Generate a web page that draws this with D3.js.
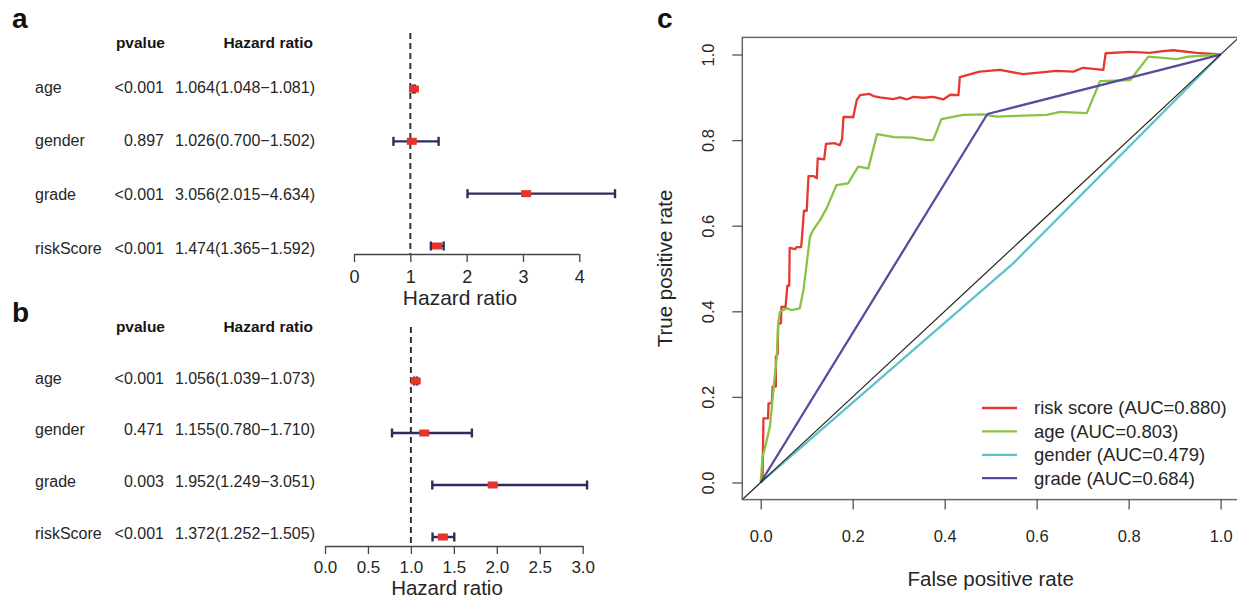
<!DOCTYPE html>
<html>
<head>
<meta charset="utf-8">
<script src="https://cdn.jsdelivr.net/npm/d3@7"></script>
<style>
  body { margin: 0; background: #fff; }
  svg { display: block; font-family: "Liberation Sans", Arial, sans-serif; }
</style>
</head>
<body>
<div id="chart"></div>
<script>
// forest plot data (shared row labels)
const variables = ['age', 'gender', 'grade', 'riskScore']

const pvalueA = ['<0.001', '0.897', '<0.001', '<0.001']
const hrA = [1.064, 1.026, 3.056, 1.474]
const lowA = [1.048, 0.7, 2.015, 1.365]
const highA = [1.081, 1.502, 4.634, 1.592]
const ticksA = [0, 1, 2, 3, 4]

const pvalueB = ['<0.001', '0.471', '0.003', '<0.001']
const hrB = [1.056, 1.155, 1.952, 1.372]
const lowB = [1.039, 0.78, 1.249, 1.252]
const highB = [1.073, 1.71, 3.051, 1.505]
const ticksB = [0, 0.5, 1, 1.5, 2, 2.5, 3]

// ROC curves
const rocNames = ['risk score', 'age', 'gender', 'grade']
const rocAuc = [0.88, 0.803, 0.479, 0.684]
const rocTicks = [0, 0.2, 0.4, 0.6, 0.8, 1]

const riskFpr = [0, 0.004, 0.006, 0.016, 0.017, 0.024, 0.026, 0.033, 0.033, 0.037, 0.038, 0.044,
  0.045, 0.054, 0.058, 0.062, 0.063, 0.075, 0.078, 0.088, 0.091, 0.094, 0.1, 0.104, 0.115,
  0.122, 0.124, 0.138, 0.142, 0.16, 0.172, 0.177, 0.18, 0.198, 0.201, 0.209, 0.216, 0.236,
  0.245, 0.259, 0.288, 0.303, 0.317, 0.332, 0.353, 0.375, 0.397, 0.412, 0.43, 0.433, 0.476,
  0.52, 0.571, 0.643, 0.68, 0.701, 0.745, 0.75, 0.803, 0.846, 0.875, 0.897, 0.948, 1]
const riskTpr = [0, 0.01, 0.15, 0.15, 0.185, 0.185, 0.224, 0.224, 0.294, 0.3, 0.372, 0.372,
  0.41, 0.41, 0.46, 0.46, 0.548, 0.545, 0.55, 0.55, 0.59, 0.635, 0.635, 0.716, 0.716,
  0.711, 0.757, 0.755, 0.791, 0.793, 0.788, 0.803, 0.854, 0.854, 0.853, 0.894, 0.905, 0.908,
  0.903, 0.9, 0.896, 0.9, 0.895, 0.901, 0.899, 0.901, 0.895, 0.906, 0.905, 0.947, 0.96,
  0.964, 0.954, 0.962, 0.96, 0.969, 0.964, 1.003, 1.006, 1.004, 1.008, 1.01, 1.004, 1]

const ageFpr = [0, 0.004, 0.009, 0.02, 0.027, 0.035, 0.038, 0.042, 0.057, 0.067, 0.085, 0.093,
  0.107, 0.114, 0.129, 0.143, 0.165, 0.19, 0.212, 0.234, 0.253, 0.29, 0.33, 0.36, 0.375,
  0.393, 0.44, 0.484, 0.513, 0.622, 0.651, 0.709, 0.738, 0.803, 0.843, 0.904, 0.93, 1]
const ageTpr = [0, 0.06, 0.08, 0.13, 0.208, 0.294, 0.372, 0.399, 0.407, 0.403, 0.407, 0.45,
  0.573, 0.59, 0.613, 0.64, 0.695, 0.699, 0.738, 0.734, 0.814, 0.807, 0.806, 0.8, 0.8,
  0.849, 0.859, 0.86, 0.855, 0.859, 0.866, 0.863, 0.938, 0.94, 0.995, 0.989, 0.995, 1]

const genderFpr = [0, 0.549, 1]
const genderTpr = [0, 0.512, 1]

const gradeFpr = [0, 0.493, 1]
const gradeTpr = [0, 0.861, 1]

const rocColors = ['#e5392f', '#87c443', '#5fc1c9', '#5a4b9d']
const rocSeries = [
  d3.zip(riskFpr, riskTpr),
  d3.zip(ageFpr, ageTpr),
  d3.zip(genderFpr, genderTpr),
  d3.zip(gradeFpr, gradeTpr)
]

const width = 1237
const height = 598
const textColor = '#262626'

const svg = d3
  .select('#chart')
  .append('svg')
  .attr('width', width)
  .attr('height', height)

svg.append('rect').attr('width', width).attr('height', height).attr('fill', '#fff')

const fmt3 = d3.format('.3f')

// one forest panel (table on the left, intervals on the right)
function forest(p) {
  const g = svg.append('g')
  const x = d3.scaleLinear().domain(p.domain).range(p.xRange)
  const y = d3.scaleLinear().domain([0, variables.length - 1]).range(p.rowRange)
  const yt = d3.scaleLinear().domain([0, variables.length - 1]).range(p.textRange)

  g.append('text')
    .attr('x', 12)
    .attr('y', p.letterY)
    .attr('font-family', '"Liberation Sans Narrow", "Liberation Sans", sans-serif')
    .attr('font-weight', 'bold')
    .attr('font-size', 28)
    .attr('fill', '#111')
    .text(p.letter)

  const header = g
    .append('g')
    .attr('font-weight', 'bold')
    .attr('font-size', 15.5)
    .attr('fill', '#151515')
    .attr('text-anchor', 'end')
  header.append('text').attr('x', 165).attr('y', p.headerY).attr('dy', '0.35em').text('pvalue')
  header.append('text').attr('x', 313).attr('y', p.headerY).attr('dy', '0.35em').text('Hazard ratio')

  const rows = g
    .append('g')
    .attr('font-size', 16)
    .attr('fill', textColor)
    .selectAll('g')
    .data(variables)
    .join('g')
    .attr('transform', (d, i) => 'translate(0,' + yt(i) + ')')

  rows.append('text').attr('x', 35).attr('dy', '0.35em').text(d => d)
  rows
    .append('text')
    .attr('x', 164)
    .attr('dy', '0.35em')
    .attr('text-anchor', 'end')
    .text((d, i) => p.pvalue[i])
  rows
    .append('text')
    .attr('x', 315)
    .attr('dy', '0.35em')
    .attr('text-anchor', 'end')
    .text((d, i) => fmt3(p.hr[i]) + '(' + fmt3(p.low[i]) + '\u2212' + fmt3(p.high[i]) + ')')

  // reference line at HR = 1
  g.append('line')
    .attr('x1', x(1))
    .attr('x2', x(1))
    .attr('y1', p.dashTop)
    .attr('y2', p.axisY)
    .attr('stroke', '#333')
    .attr('stroke-width', 2)
    .attr('stroke-dasharray', '6,4')

  const axis = g
    .append('g')
    .attr('transform', 'translate(0,' + p.axisY + ')')
    .call(
      d3
        .axisBottom(x)
        .tickValues(p.ticks)
        .tickSize(8)
        .tickSizeOuter(0)
        .tickPadding(p.tickPad)
        .tickFormat(p.tickFormat)
    )
  axis.selectAll('path,line').attr('stroke', '#444').attr('stroke-width', 1.3)
  axis
    .selectAll('text')
    .attr('font-size', p.tickFont)
    .attr('font-family', '"Liberation Sans", Arial, sans-serif')
    .attr('fill', textColor)

  g.append('text')
    .attr('x', p.titleX)
    .attr('y', p.titleY)
    .attr('dy', '0.35em')
    .attr('text-anchor', 'middle')
    .attr('font-size', p.titleFont)
    .attr('fill', textColor)
    .text('Hazard ratio')

  const ci = g
    .append('g')
    .attr('stroke', '#2c2d5b')
    .attr('stroke-width', 2.4)
    .selectAll('g')
    .data(variables)
    .join('g')
    .attr('transform', (d, i) => 'translate(0,' + y(i) + ')')

  ci.append('line').attr('x1', (d, i) => x(p.low[i])).attr('x2', (d, i) => x(p.high[i]))
  ci.append('line')
    .attr('x1', (d, i) => x(p.low[i]))
    .attr('x2', (d, i) => x(p.low[i]))
    .attr('y1', -4.5)
    .attr('y2', 4.5)
  ci.append('line')
    .attr('x1', (d, i) => x(p.high[i]))
    .attr('x2', (d, i) => x(p.high[i]))
    .attr('y1', -4.5)
    .attr('y2', 4.5)

  g.append('g')
    .selectAll('rect')
    .data(variables)
    .join('rect')
    .attr('x', (d, i) => x(p.hr[i]) - 5)
    .attr('y', (d, i) => y(i) - 3.5)
    .attr('width', 10)
    .attr('height', 7)
    .attr('fill', '#e8332b')
}

forest({
  letter: 'a',
  letterY: 28,
  headerY: 43,
  pvalue: pvalueA,
  hr: hrA,
  low: lowA,
  high: highA,
  ticks: ticksA,
  tickFormat: d3.format('d'),
  domain: [0, 4],
  xRange: [354, 579.3],
  rowRange: [89, 246],
  textRange: [87, 248],
  dashTop: 33,
  axisY: 254,
  tickPad: 8.5,
  tickFont: 18,
  titleX: 460,
  titleY: 298,
  titleFont: 21
})

forest({
  letter: 'b',
  letterY: 322,
  headerY: 327,
  pvalue: pvalueB,
  hr: hrB,
  low: lowB,
  high: highB,
  ticks: ticksB,
  tickFormat: d3.format('.1f'),
  domain: [0, 3],
  xRange: [325, 582.7],
  rowRange: [381, 537],
  textRange: [378, 533],
  dashTop: 327,
  axisY: 546,
  tickPad: 7,
  tickFont: 17,
  titleX: 447,
  titleY: 587.5,
  titleFont: 20.5
})

// ROC panel
const xC = d3.scaleLinear().domain([-0.04, 1.04]).range([742.3, 1239])
const yC = d3.scaleLinear().domain([-0.04, 1.04]).range([499.6, 37.4])

const roc = svg.append('g')

roc.append('text')
  .attr('x', 657)
  .attr('y', 28)
  .attr('font-family', '"Liberation Sans Narrow", "Liberation Sans", sans-serif')
  .attr('font-weight', 'bold')
  .attr('font-size', 28)
  .attr('fill', '#111')
  .text('c')

roc.append('defs')
  .append('clipPath')
  .attr('id', 'rocClip')
  .append('rect')
  .attr('x', xC(-0.04))
  .attr('y', yC(1.04))
  .attr('width', xC(1.04) - xC(-0.04))
  .attr('height', yC(-0.04) - yC(1.04))

const line = d3
  .line()
  .x(d => xC(d[0]))
  .y(d => yC(d[1]))

const curves = roc.append('g').attr('clip-path', 'url(#rocClip)')

curves
  .selectAll('path')
  .data(rocSeries)
  .join('path')
  .attr('d', line)
  .attr('fill', 'none')
  .attr('stroke', (d, i) => rocColors[i])
  .attr('stroke-width', 2.3)
  .attr('stroke-linejoin', 'round')

curves
  .append('line')
  .attr('x1', xC(-0.04))
  .attr('y1', yC(-0.04))
  .attr('x2', xC(1.04))
  .attr('y2', yC(1.04))
  .attr('stroke', '#222')
  .attr('stroke-width', 1.2)

roc.append('rect')
  .attr('x', xC(-0.04))
  .attr('y', yC(1.04))
  .attr('width', xC(1.04) - xC(-0.04))
  .attr('height', yC(-0.04) - yC(1.04))
  .attr('fill', 'none')
  .attr('stroke', '#666')
  .attr('stroke-width', 1.5)

const xAxisC = roc
  .append('g')
  .attr('transform', 'translate(0,' + yC(-0.04) + ')')
  .call(
    d3
      .axisBottom(xC)
      .tickValues(rocTicks)
      .tickSize(10)
      .tickPadding(21)
      .tickFormat(d3.format('.1f'))
  )
xAxisC.select('.domain').remove()

const yAxisC = roc
  .append('g')
  .attr('transform', 'translate(' + xC(-0.04) + ',0)')
  .call(d3.axisLeft(yC).tickValues(rocTicks).tickSize(10).tickFormat(d3.format('.1f')))
yAxisC.select('.domain').remove()
yAxisC
  .selectAll('text')
  .attr('transform', 'rotate(-90)')
  .attr('x', 0)
  .attr('y', -34.5)
  .attr('dy', '0.35em')
  .attr('text-anchor', 'middle')

roc.selectAll('.tick line').attr('stroke', '#555').attr('stroke-width', 1.3)
roc.selectAll('.tick text')
  .attr('font-family', '"Liberation Sans", Arial, sans-serif')
  .attr('font-size', 16.5)
  .attr('fill', textColor)

roc.append('text')
  .attr('x', xC(0.5))
  .attr('y', 579)
  .attr('dy', '0.35em')
  .attr('text-anchor', 'middle')
  .attr('font-size', 20.5)
  .attr('fill', textColor)
  .text('False positive rate')

roc.append('text')
  .attr('transform', 'translate(665,' + yC(0.5) + ') rotate(-90)')
  .attr('dy', '0.35em')
  .attr('text-anchor', 'middle')
  .attr('font-size', 20.5)
  .attr('fill', textColor)
  .text('True positive rate')

// legend, no box
const legend = roc
  .append('g')
  .selectAll('g')
  .data(rocNames)
  .join('g')
  .attr('transform', (d, i) => 'translate(982,' + (408 + i * 23.4) + ')')

legend.append('line')
  .attr('x1', 0)
  .attr('x2', 35)
  .attr('stroke', (d, i) => rocColors[i])
  .attr('stroke-width', 2.3)

legend.append('text')
  .attr('x', 52)
  .attr('dy', '0.35em')
  .attr('font-size', 18.5)
  .attr('fill', textColor)
  .text((d, i) => d + ' (AUC=' + d3.format('.3f')(rocAuc[i]) + ')')
</script>
</body>
</html>
